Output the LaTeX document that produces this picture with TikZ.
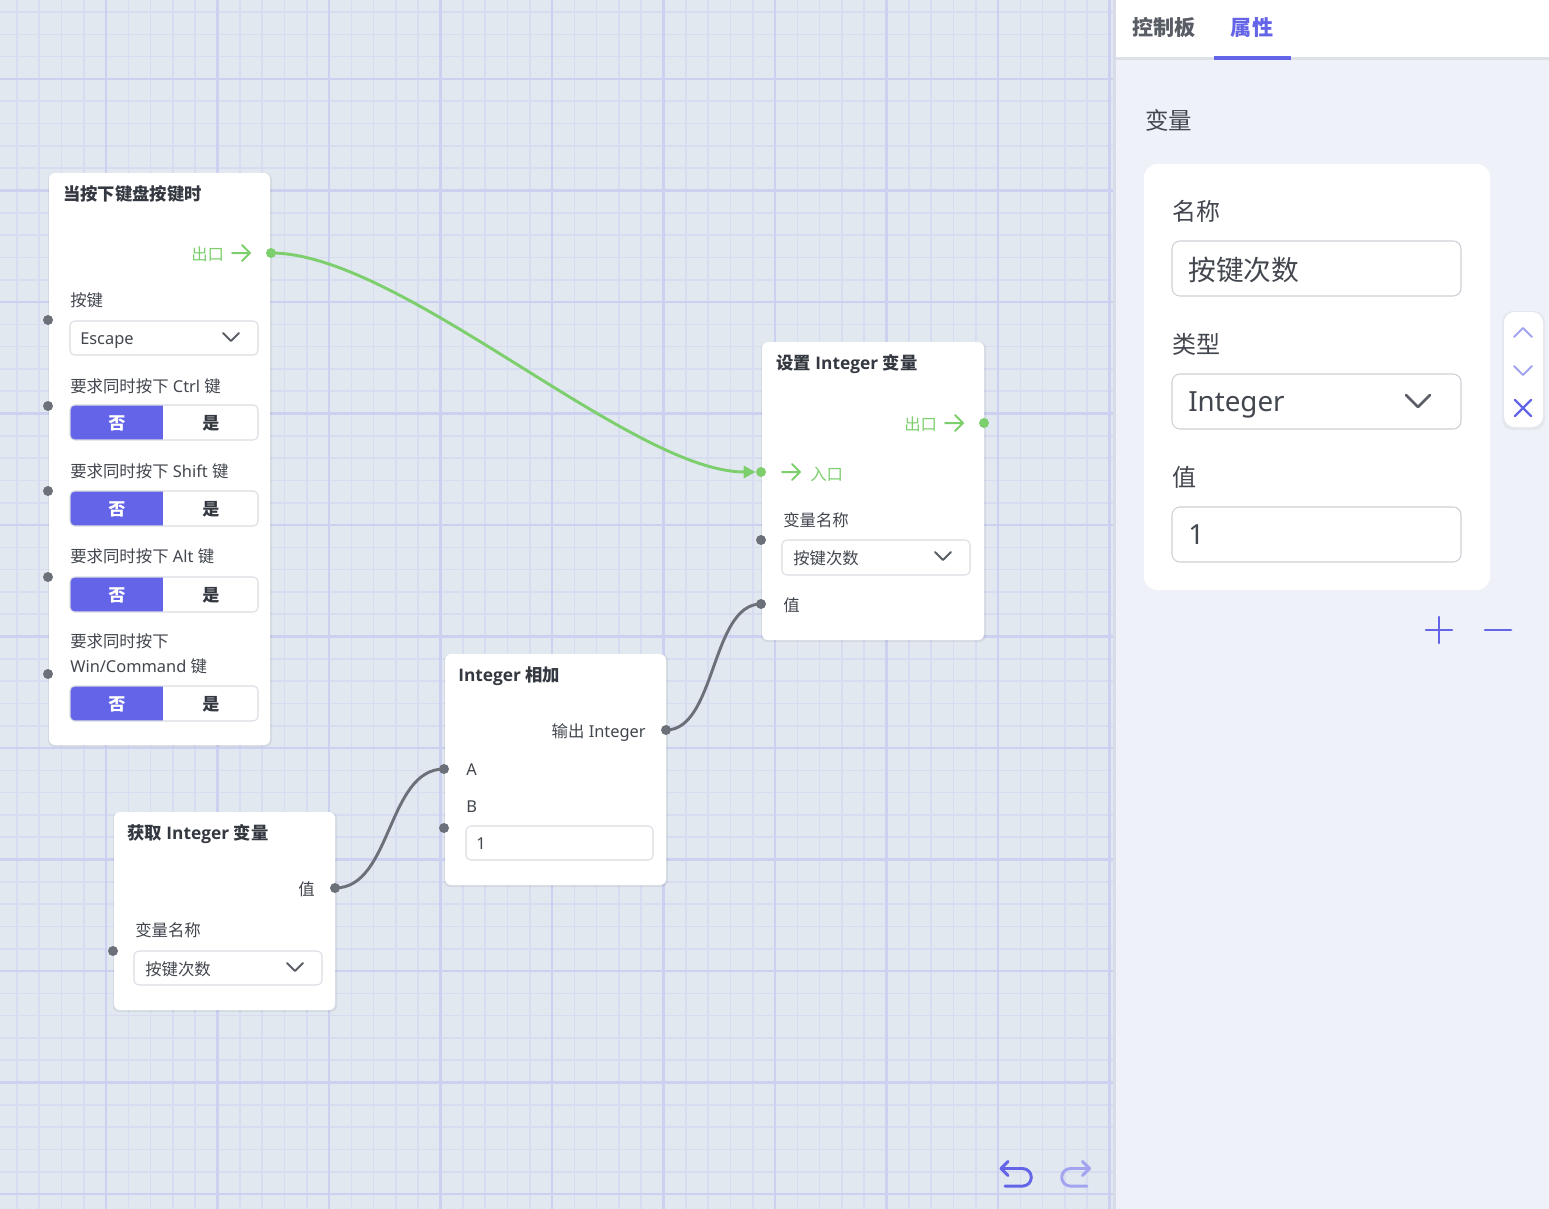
\documentclass[tikz,border=0pt]{standalone}
\usepackage{fontspec}
\setmainfont{Noto Sans}
\newfontfamily\zh{Noto Sans CJK SC}
\newfontfamily\bsans{Open Sans}
\newcommand\zht[1]{{\zh #1}}
\usetikzlibrary{arrows.meta}
\definecolor{gridbg}{RGB}{226,232,240}
\definecolor{gridminor}{RGB}{215,220,241}
\definecolor{gridmajor}{RGB}{204,209,242}
\definecolor{panelbg}{RGB}{238,241,247}
\definecolor{panelshadow}{RGB}{215,220,232}
\definecolor{headerline}{RGB}{222,225,232}
\definecolor{tabgrey}{RGB}{88,92,100}
\definecolor{indigo}{RGB}{99,100,232}
\definecolor{indlight}{RGB}{162,164,240}
\definecolor{flowgreen}{RGB}{125,207,110}
\definecolor{portgrey}{RGB}{107,112,121}
\definecolor{txt}{RGB}{66,70,78}
\definecolor{titletxt}{RGB}{52,56,64}
\definecolor{boxline}{RGB}{218,221,227}
\definecolor{pboxline}{RGB}{205,208,214}
\definecolor{chev}{RGB}{90,94,102}
\tikzset{
  card/.style={fill=white, rounded corners=4.5pt},
  cardshadow/.style={fill=black, opacity=0.06, rounded corners=5pt},
  even/.style={text height=0.98em, text depth=0em},
  title/.style={anchor=west, inner sep=0, even, text=titletxt, font=\bsans\bfseries\fontsize{13}{15}\selectfont},
  lbl/.style={anchor=west, inner sep=0, even, text=txt, font=\fontsize{12.3}{14}\selectfont},
  flowlbl/.style={anchor=west, inner sep=0, even, text=flowgreen, font=\fontsize{12.3}{14}\selectfont},
  tgltxt/.style={inner sep=0, even, text=titletxt, font=\bfseries\fontsize{12.8}{14}\selectfont},
  tabtxt/.style={inner sep=0, even, font=\bfseries\fontsize{15.8}{18}\selectfont},
  fieldbox/.style={draw=boxline, fill=white, line width=0.8pt, rounded corners=3.5pt},
  chevron/.style={draw=chev, line width=1.5pt, line cap=round, line join=round},
  gport/.style={circle, fill=portgrey, inner sep=0, minimum size=7.5pt},
  fport/.style={circle, fill=flowgreen, inner sep=0, minimum size=7.5pt},
  flowarrow/.style={draw=flowgreen, line width=1.5pt, line cap=round, line join=round},
  flowedge/.style={draw=flowgreen, line width=2.2pt, -{Triangle[length=9pt,width=9pt]}},
  dataedge/.style={draw=portgrey, line width=2.2pt},
  plbl/.style={anchor=west, inner sep=0, even, text=txt, font=\fontsize{18}{20}\selectfont},
  pval/.style={anchor=west, inner sep=0, even, text=txt, font=\fontsize{20.8}{23}\selectfont},
  pbox/.style={draw=pboxline, fill=white, line width=0.8pt, rounded corners=6pt},
  icon/.style={line width=2pt, line cap=round, line join=round}
}
\newcommand\tgl[2]{%
  \begin{scope}
    \clip[rounded corners=3.5pt] (70,#1) rectangle (258,#1+35);
    \fill[white] (70,#1) rectangle (258,#1+35);
    \fill[indigo] (70,#1) rectangle (163,#1+35);
  \end{scope}
  \draw[boxline, line width=0.8pt, rounded corners=3.5pt] (70,#1) rectangle (258,#1+35);
  \node[tgltxt, text=white] (#2no) at (117,#1+17.5) {\zht{否}};
  \node[tgltxt] (#2yes) at (211,#1+17.5) {\zht{是}};
}
\newcommand\chevd[2]{\draw[chevron] (#1-8,#2-4) -- (#1,#2+4) -- (#1+8,#2-4);}
\begin{document}
\begin{tikzpicture}[x=0.75pt,y=-0.75pt]
\useasboundingbox (0,0) rectangle (1549,1209);
% ---------- canvas grid ----------
\fill[gridbg] (0,0) rectangle (1115,1209);
\foreach \i in {0,...,49} {\pgfmathsetmacro\xx{16.8+22.3*\i}\draw[gridminor, line width=1.2pt] (\xx,0) -- (\xx,1209);}
\foreach \i in {0,...,53} {\pgfmathsetmacro\yy{12.1+22.3*\i}\draw[gridminor, line width=1.2pt] (0,\yy) -- (1115,\yy);}
\foreach \i in {0,...,9} {\pgfmathsetmacro\xx{106+111.5*\i}\draw[gridmajor, line width=1.6pt] (\xx,0) -- (\xx,1209);}
\foreach \i in {0,...,10} {\pgfmathsetmacro\yy{79+111.5*\i}\draw[gridmajor, line width=1.6pt] (0,\yy) -- (1115,\yy);}
% ---------- side panel ----------
\fill[panelbg] (1115,0) rectangle (1549,1209);
\fill[panelshadow] (1113,0) rectangle (1116,1209);
\fill[white] (1116,0) rectangle (1549,57);
\fill[headerline] (1116,57) rectangle (1549,60);
\fill[indigo] (1214,56) rectangle (1291,60);
\node[tabtxt, text=tabgrey] (tabctl) at (1164,29) {\zht{控制板}};
\node[tabtxt, text=indigo] (tabprop) at (1252,29) {\zht{属性}};
\node[anchor=west, inner sep=0, even, text=txt, font=\fontsize{17.6}{20}\selectfont] (pvar) at (1145,123) {\zht{变量}};
\fill[white, rounded corners=10pt] (1144,164) rectangle (1490,590);
\node[plbl] (pname) at (1172,214) {\zht{名称}};
\draw[pbox] (1172,241) rectangle (1461,296);
\node[pval] (pnamev) at (1188,274) {\zht{按键次数}};
\node[plbl] (ptype) at (1172,347) {\zht{类型}};
\draw[pbox] (1172,374) rectangle (1461,429);
\node[pval] (ptypev) at (1188,405) {Integer};
\draw[chevron, line width=2pt] (1406,395) -- (1418,407) -- (1430,395);
\node[plbl] (pval) at (1172,480) {\zht{值}};
\draw[pbox] (1172,507) rectangle (1461,562);
\node[pval] (pvalv) at (1188,538) {1};
% mini toolbar
\fill[black, opacity=0.04, rounded corners=8pt] (1502,311) rectangle (1545,430);
\fill[white, rounded corners=8pt] (1504,312) rectangle (1543,427);
\draw[icon, indlight, line width=1.5pt] (1514,337) -- (1523,328) -- (1532,337);
\draw[icon, indlight, line width=1.5pt] (1514,366) -- (1523,375) -- (1532,366);
\draw[icon, indigo, line width=1.7pt] (1515,400) -- (1531,416) (1531,400) -- (1515,416);
% plus / minus
\draw[icon, indigo] (1426,630) -- (1452,630) (1439,617) -- (1439,643);
\draw[icon, indigo] (1485,630) -- (1511,630);
% undo / redo
\draw[icon, indigo, line width=2.2pt] (1008,1161.5) -- (1001,1168.5) -- (1008,1175.5);
\draw[icon, indigo, line width=2.2pt] (1001,1168.5) -- (1022.5,1168.5) arc[start angle=-90, end angle=90, radius=8.8] -- (1005,1186.1);
\draw[icon, indlight, line width=2.2pt] (1082.5,1161.5) -- (1089.5,1168.5) -- (1082.5,1175.5);
\draw[icon, indlight, line width=2.2pt] (1089.5,1168.5) -- (1070.5,1168.5) arc[start angle=-90, end angle=-270, radius=8.8] -- (1087,1186.1);
% ---------- node cards ----------
\fill[cardshadow] (48,173) rectangle (272,747);
\fill[card] (49,173) rectangle (270,745);
\fill[cardshadow] (761,342) rectangle (986,642);
\fill[card] (762,342) rectangle (984,640);
\fill[cardshadow] (444,654) rectangle (668,887);
\fill[card] (445,654) rectangle (666,885);
\fill[cardshadow] (113,812) rectangle (337,1012);
\fill[card] (114,812) rectangle (335,1010);
% ---------- node 1: keyboard event ----------
\node[title] (n1title) at (63,194) {\zht{当按下键盘按键时}};
\node[flowlbl] (n1outl) at (191,254) {\zht{出口}};
\draw[flowarrow] (232,253) -- (250,253) (242,245) -- (250,253) -- (242,261);
\node[lbl] (n1key) at (70,300) {\zht{按键}};
\draw[fieldbox] (70,321) rectangle (258,355);
\node[lbl] (n1esc) at (80,338) {Escape};
\chevd{231}{337}
\node[lbl] (n1ctrl) at (70,386) {\zht{要求同时按下} Ctrl \zht{键}};
\tgl{405}{ctrl}
\node[lbl] (n1shift) at (70,471) {\zht{要求同时按下} Shift \zht{键}};
\tgl{491}{shift}
\node[lbl] (n1alt) at (70,556) {\zht{要求同时按下} Alt \zht{键}};
\tgl{577}{alt}
\node[lbl] (n1win) at (70,641) {\zht{要求同时按下}};
\node[lbl] (n1win2) at (70,666) {Win/Command \zht{键}};
\tgl{686}{win}
% ---------- node 2: set variable ----------
\node[title] (n2title) at (776,363) {\zht{设置} Integer \zht{变量}};
\node[flowlbl] (n2outl) at (904,424) {\zht{出口}};
\draw[flowarrow] (945,423) -- (963,423) (955,415) -- (963,423) -- (955,431);
\draw[flowarrow] (782,472) -- (800,472) (792,464) -- (800,472) -- (792,480);
\node[flowlbl] (n2inl) at (810,474) {\zht{入口}};
\node[lbl] (n2name) at (783,520) {\zht{变量名称}};
\draw[fieldbox] (782,540) rectangle (970,575);
\node[lbl] (n2namev) at (793,558) {\zht{按键次数}};
\chevd{943}{556}
\node[lbl] (n2val) at (783,605) {\zht{值}};
% ---------- node 3: add ----------
\node[title] (n3title) at (458,675) {Integer \zht{相加}};
\node[lbl, anchor=east] (n3outl) at (646,731) {\zht{输出} Integer};
\node[lbl] (n3a) at (466,769) {A};
\node[lbl] (n3b) at (466,806) {B};
\draw[fieldbox] (466,826) rectangle (653,860);
\node[lbl] (n3bv) at (476,843) {1};
% ---------- node 4: get variable ----------
\node[title] (n4title) at (127,833) {\zht{获取} Integer \zht{变量}};
\node[lbl, anchor=east] (n4outl) at (315,889) {\zht{值}};
\node[lbl] (n4name) at (135,930) {\zht{变量名称}};
\draw[fieldbox] (134,951) rectangle (322,985);
\node[lbl] (n4namev) at (145,969) {\zht{按键次数}};
\chevd{295}{967}
% ---------- ports ----------
\node[fport] (n1out) at (271,253) {};
\node[gport] (n1pkey) at (48,320) {};
\node[gport] (n1pctrl) at (48,406) {};
\node[gport] (n1pshift) at (48,491) {};
\node[gport] (n1palt) at (48,577) {};
\node[gport] (n1pwin) at (48,674) {};
\node[fport] (n2out) at (984,423) {};
\node[fport] (n2in) at (761,472) {};
\node[gport] (n2pname) at (761,540) {};
\node[gport] (n2pval) at (761,604) {};
\node[gport] (n3out) at (666,730) {};
\node[gport] (n3pa) at (444,769) {};
\node[gport] (n3pb) at (444,828) {};
\node[gport] (n4out) at (335,888) {};
\node[gport] (n4pname) at (113,951) {};
% ---------- connectors ----------
\draw[flowedge] (n1out.center) .. controls (401,253) and (631,472) .. (n2in.west);
\draw[dataedge] (n3out.center) .. controls (716,730) and (711,604) .. (n2pval.center);
\draw[dataedge] (n4out.center) .. controls (392,888) and (387,769) .. (n3pa.center);
\end{tikzpicture}
\end{document}
